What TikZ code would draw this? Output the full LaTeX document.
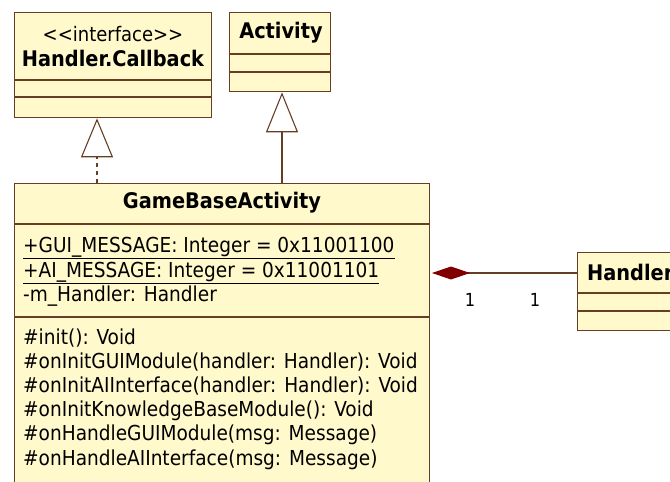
\documentclass[tikz,border=0pt]{standalone}
\usepackage{fontspec}
\setmainfont{DejaVu Sans Condensed}
\usetikzlibrary{arrows.meta,positioning}

\definecolor{umlfill}{RGB}{255,249,204}
\definecolor{umlline}{RGB}{102,62,36}
\definecolor{compred}{RGB}{128,0,0}

\begin{document}
\begin{tikzpicture}[x=1pt,y=-1pt,
    classbox/.style={draw=umlline, fill=umlfill, line width=1.3pt, inner sep=0pt, anchor=north west},
    divider/.style={draw=umlline, line width=1.3pt},
    classname/.style={font=\fontsize{21.5}{24}\selectfont\bfseries, inner sep=0pt},
    stereo/.style={font=\fontsize{20}{24}\selectfont, inner sep=0pt},
    member/.style={font=\fontsize{20.6}{24}\selectfont, inner sep=0pt, anchor=base west},
    realize/.style={draw=umlline, line width=1.1pt, dash pattern=on 4pt off 4pt,
      -{Triangle[open, length=39pt, width=32pt, line width=1.1pt]}},
    inherit/.style={draw=umlline, line width=1.1pt,
      -{Triangle[open, length=40pt, width=32pt, line width=1.1pt]}},
    compose/.style={draw=umlline, line width=1.1pt,
      -{Diamond[length=38pt, width=13pt, fill=compred, color=compred]}},
    mult/.style={font=\fontsize{18}{20}\selectfont, inner sep=0pt}]
  \useasboundingbox (0,0) rectangle (670,482);

  % Define the class boxes
  \node[classbox, minimum width=197pt, minimum height=105pt] (callback) at (14,12) {};
  \node[classbox, minimum width=101pt, minimum height=79pt] (activity) at (229,12) {};
  \node[classbox, minimum width=415pt, minimum height=320pt] (game) at (14,183) {};
  \node[classbox, minimum width=120pt, minimum height=78pt] (handler) at (577,252) {};

  % Draw the compartment lines
  \draw[divider] (14,80) -- (211,80);
  \draw[divider] (14,97) -- (211,97);
  \draw[divider] (229,54) -- (330,54);
  \draw[divider] (229,72) -- (330,72);
  \draw[divider] (14,224) -- (429,224);
  \draw[divider] (14,317) -- (429,317);
  \draw[divider] (577,293) -- (697,293);
  \draw[divider] (577,311) -- (697,311);

  % Write the class names
  \node[stereo] (callbackstereo) at (113,34) {{<}{<}interface{>}{>}};
  \node[classname] (callbackname) at (113,58) {Handler.Callback};
  \node[classname] (activityname) at (281,33) {Activity};
  \node[classname] (gamename) at (222,203) {GameBaseActivity};
  \node[classname, anchor=west] (handlername) at (587,272) {Handler};

  % Write the attributes
  \node[member] (attr1) at (23,252) {\underline{+GUI\_MESSAGE: Integer = 0x11001100}};
  \node[member] (attr2) at (23,277) {\underline{+AI\_MESSAGE: Integer = 0x11001101}};
  \node[member] (attr3) at (23,301) {-m\_Handler: Handler};

  % Write the operations
  \foreach \txt [count=\i] in {{\#init(): Void},
      {\#onInitGUIModule(handler: Handler): Void},
      {\#onInitAIInterface(handler: Handler): Void},
      {\#onInitKnowledgeBaseModule(): Void},
      {\#onHandleGUIModule(msg: Message)},
      {\#onHandleAIInterface(msg: Message)}} {
    \node[member] (op\i) at (23,{319.8+24.2*\i}) {\txt};
  }

  % Draw the relations
  \coordinate (gametopleft) at (97,183);
  \coordinate (gametopright) at (282,183);
  \draw[realize] (gametopleft) -- (gametopleft |- callback.south);
  \draw[inherit] (gametopright) -- (gametopright |- activity.south);
  \coordinate (handlerjoin) at (577,273);
  \coordinate (gamejoin) at (432,273);
  \draw[compose] (handlerjoin) -- (gamejoin);
  \node[mult] (multgame) at (470,300) {1};
  \node[mult] (multhandler) at (535,300) {1};
\end{tikzpicture}
\end{document}
